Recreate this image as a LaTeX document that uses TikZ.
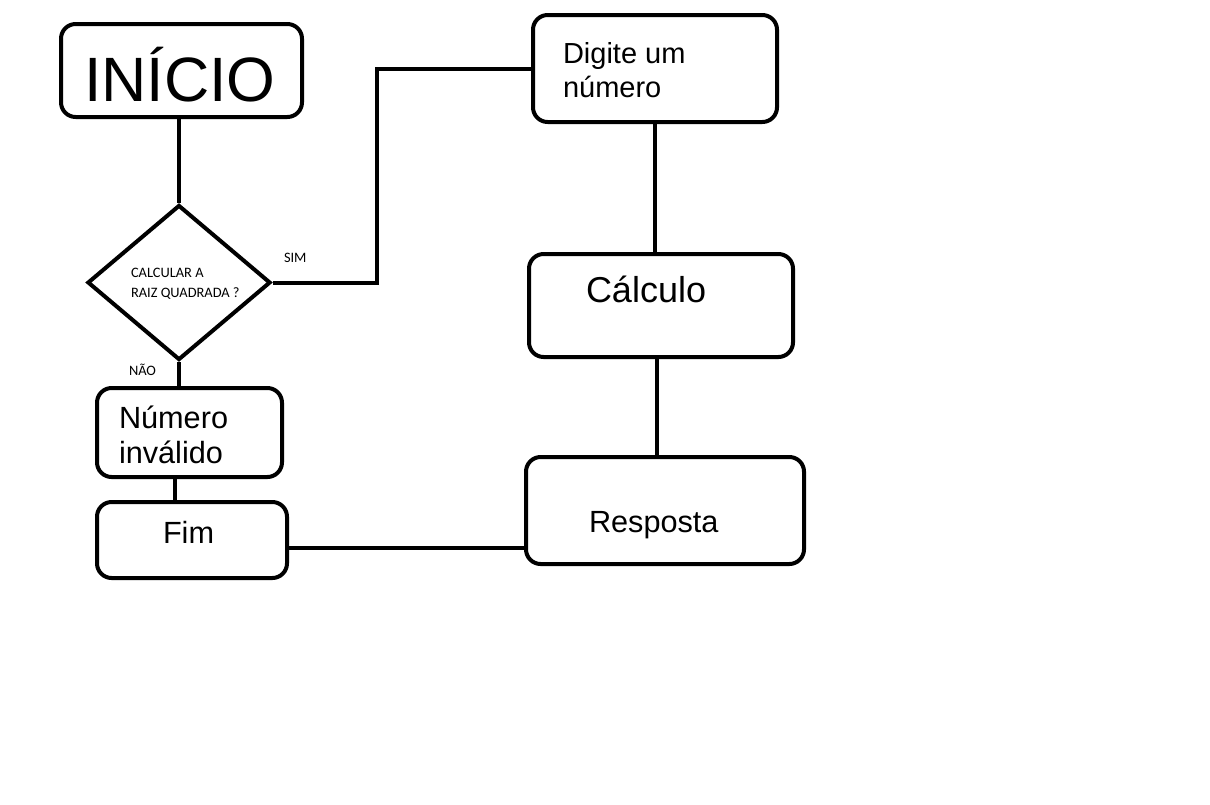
\documentclass[tikz,border=0pt]{standalone}
\usepackage{fontspec}
\setmainfont{Liberation Sans}
\newfontfamily\carlfont{Carlito}
\usetikzlibrary{shapes.geometric}
\begin{document}
\begin{tikzpicture}[x=0.75pt,y=-0.75pt,
  line width=3pt,
  boxnode/.style={draw,rounded corners=11pt,inner sep=0pt,minimum width=#1},
  txt/.style={inner sep=0pt,anchor=base west},
  conn/.style={draw,line width=3pt,line join=miter}]
\useasboundingbox (0,0) rectangle (1210,804);
\fill[white] (0,0) rectangle (1210,804);
% boxes
\node[boxnode=241*0.75pt,minimum height=93*0.75pt] (inicio) at (181.5,70.5) {};
\node[boxnode=244*0.75pt,minimum height=107*0.75pt] (digite) at (655,68.5) {};
\node[boxnode=264*0.75pt,minimum height=103*0.75pt] (calc) at (661,305.5) {};
\node[boxnode=278*0.75pt,minimum height=107*0.75pt] (resp) at (665,510.5) {};
\node[boxnode=185*0.75pt,minimum height=89*0.75pt] (numero) at (189.5,432.5) {};
\node[boxnode=190*0.75pt,minimum height=76*0.75pt] (fim) at (192,540) {};
\node[draw,diamond,inner sep=0pt,minimum width=183*0.75pt,minimum height=155*0.75pt] (dia) at (179,282.5) {};
% texts
\node[txt,font=\fontsize{47}{47}\selectfont] (tinicio) at (82,101) {INÍCIO};
\node[txt,font=\fontsize{21.75}{21.75}\selectfont] (tdig1) at (561,63) {Digite um};
\node[txt,font=\fontsize{21.75}{21.75}\selectfont] (tdig2) at (561,97) {número};
\node[txt,font=\fontsize{27}{27}\selectfont] (tcalc) at (584,302) {Cálculo};
\node[txt,font=\fontsize{23}{23}\selectfont] (tresp) at (587,532) {Resposta};
\node[txt,font=\fontsize{23}{23}\selectfont] (tnum1) at (117,428) {Número};
\node[txt,font=\fontsize{23}{23}\selectfont] (tnum2) at (117,463) {inválido};
\node[txt,font=\fontsize{23}{23}\selectfont] (tfim) at (161,543) {Fim};
\node[txt,font=\carlfont\fontsize{10.8}{10.8}\selectfont] (tq1) at (129,277) {CALCULAR A};
\node[txt,font=\carlfont\fontsize{10.8}{10.8}\selectfont] (tq2) at (129,297) {RAIZ QUADRADA ?};
\node[txt,font=\carlfont\fontsize{10.8}{10.8}\selectfont] (tsim) at (282,262) {SIM};
\node[txt,font=\carlfont\fontsize{10.8}{10.8}\selectfont] (tnao) at (127,375) {NÃO};
% helper coordinates
\coordinate (elb) at (377,170);
\coordinate (lx) at (175,490);
\coordinate (fr) at (400,548);
\coordinate (cx) at (657,400);
% connectors
\draw[conn] (dia.north) -- (dia.north |- inicio.south);
\draw[conn] (dia.east) -| (elb) |- (digite.west);
\draw[conn] (digite.south) -- (digite.south |- calc.north);
\draw[conn] (cx |- calc.south) -- (cx |- resp.north);
\draw[conn] (fr -| fim.east) -- (fr -| resp.west);
\draw[conn] (dia.south) -- (dia.south |- numero.north);
\draw[conn] (lx |- numero.south) -- (lx |- fim.north);
\end{tikzpicture}
\end{document}
